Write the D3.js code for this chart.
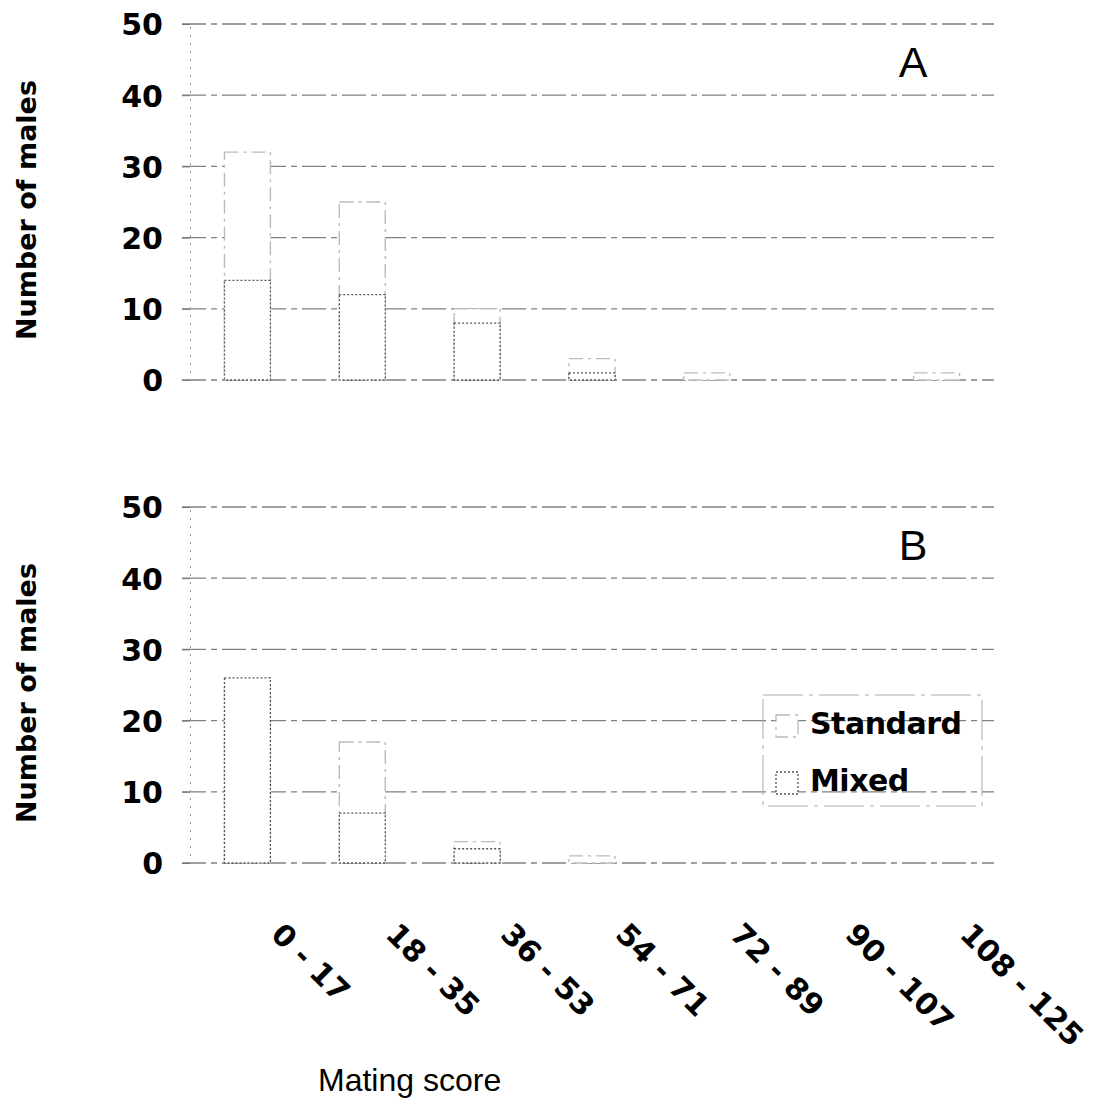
<!DOCTYPE html>
<html>
<head>
<meta charset="utf-8">
<script src="https://cdn.jsdelivr.net/npm/d3@7"></script>
<style>
  body { margin: 0; background: #fff; }
  .tick-num { font-family: "DejaVu Sans", sans-serif; font-weight: bold; }
</style>
</head>
<body>
<div id="chart"></div>
<script>
// data
var categories = ["0 - 17", "18 - 35", "36 - 53", "54 - 71", "72 - 89", "90 - 107", "108 - 125"];
var standardA = [32, 25, 10, 3, 1, 0, 1];
var mixedA    = [14, 12, 8, 1, 0, 0, 0];
var standardB = [25, 17, 3, 1, 0, 0, 0];
var mixedB    = [26, 7, 2, 0, 0, 0, 0];
var yTicks = [0, 10, 20, 30, 40, 50];
var seriesNames = ["Standard", "Mixed"];

var W = 1100, H = 1105;
var left = 190, right = 994;

var svg = d3.select("#chart")
    .append("svg")
    .attr("width", W)
    .attr("height", H);

var x = d3.scaleBand()
    .domain(categories)
    .range([left, right])
    .paddingInner(0.6)
    .paddingOuter(0.3);

var drawPanel = function(top, bottom, standard, mixed, letter) {
  var y = d3.scaleLinear().domain([0, 50]).range([bottom, top]);
  var g = svg.append("g");

  // gridlines
  g.selectAll("line.grid")
      .data(yTicks)
      .enter()
      .append("line")
      .attr("class", "grid")
      .attr("x1", left - 8)
      .attr("x2", right)
      .attr("y1", function(d) { return y(d); })
      .attr("y2", function(d) { return y(d); })
      .attr("stroke", "#808080")
      .attr("stroke-width", 1.3)
      .attr("stroke-dasharray", "24,5,6,5");

  // y axis
  var yAxis = d3.axisLeft(y).tickValues(yTicks).tickSize(8).tickPadding(20);
  var ax = g.append("g")
      .attr("transform", "translate(" + left + ",0)")
      .call(yAxis);
  ax.select(".domain")
      .attr("stroke", "#999")
      .attr("stroke-dasharray", "2,6");
  ax.selectAll(".tick line").attr("stroke", "#777");
  ax.selectAll(".tick text")
      .attr("class", "tick-num")
      .attr("x", -27)
      .attr("dy", "0.36em")
      .style("font-size", "30px")
      .attr("fill", "#000");

  // standard bars (behind) - fill lost in the scan, only faint edges
  g.selectAll("rect.std")
      .data(standard)
      .enter()
      .append("rect")
      .attr("class", "std")
      .attr("x", function(d, i) { return x(categories[i]); })
      .attr("y", function(d) { return y(d); })
      .attr("width", x.bandwidth())
      .attr("height", function(d) { return y(0) - y(d); })
      .attr("fill", "#fff")
      .attr("stroke", function(d) { return d > 0 ? "#bbb" : "none"; })
      .attr("stroke-width", 1.4)
      .attr("stroke-dasharray", "14,5,3,5");

  // mixed bars (in front)
  g.selectAll("rect.mix")
      .data(mixed)
      .enter()
      .append("rect")
      .attr("class", "mix")
      .attr("x", function(d, i) { return x(categories[i]); })
      .attr("y", function(d) { return y(d); })
      .attr("width", x.bandwidth())
      .attr("height", function(d) { return y(0) - y(d); })
      .attr("fill", "#fff")
      .attr("stroke", function(d) { return d > 0 ? "#555" : "none"; })
      .attr("stroke-width", 1.3)
      .attr("stroke-dasharray", "2,2");

  // panel letter
  g.append("text")
      .attr("x", 913)
      .attr("y", top + 53)
      .attr("text-anchor", "middle")
      .style("font-family", "Liberation Sans, Arial, sans-serif")
      .style("font-size", "43px")
      .text(letter);

  // y label
  g.append("text")
      .attr("transform", "translate(36," + ((top + bottom) / 2 + 8) + ") rotate(-90)")
      .attr("text-anchor", "middle")
      .style("font-family", "DejaVu Sans, sans-serif")
      .style("font-weight", "bold")
      .style("font-size", "27px")
      .text("Number of males");

  return y;
};

drawPanel(24, 380, standardA, mixedA, "A");
drawPanel(507, 863, standardB, mixedB, "B");

// x tick labels, rotated
svg.append("g")
    .selectAll("text")
    .data(categories)
    .enter()
    .append("text")
    .attr("class", "tick-num")
    .attr("transform", function(d) {
      return "translate(" + (x(d) + x.bandwidth() / 2 + 22) + ",936) rotate(45)";
    })
    .style("font-size", "30px")
    .text(function(d) { return d; });

// x label
svg.append("text")
    .attr("x", 318)
    .attr("y", 1091)
    .style("font-family", "Liberation Sans, Arial, sans-serif")
    .style("font-size", "32px")
    .text("Mating score");

// legend
var legend = svg.append("g");
legend.append("rect")
    .attr("x", 763).attr("y", 695)
    .attr("width", 219).attr("height", 111)
    .attr("fill", "none")
    .attr("stroke", "#aaa")
    .attr("stroke-dasharray", "40,6,4,6");

seriesNames.forEach(function(name, i) {
  var row = legend.append("g")
      .attr("transform", "translate(776," + (715 + i * 57) + ")");
  row.append("rect")
      .attr("width", 22)
      .attr("height", 22)
      .attr("fill", "#fff")
      .attr("stroke", i == 0 ? "#bbb" : "#555")
      .attr("stroke-width", 1.3)
      .attr("stroke-dasharray", i == 0 ? "14,5,3,5" : "2,2");
  row.append("text")
      .attr("x", 34)
      .attr("y", 19)
      .style("font-family", "DejaVu Sans, sans-serif")
      .style("font-weight", "bold")
      .style("font-size", "30px")
      .style("letter-spacing", "-0.5px")
      .text(name);
});
</script>
</body>
</html>
